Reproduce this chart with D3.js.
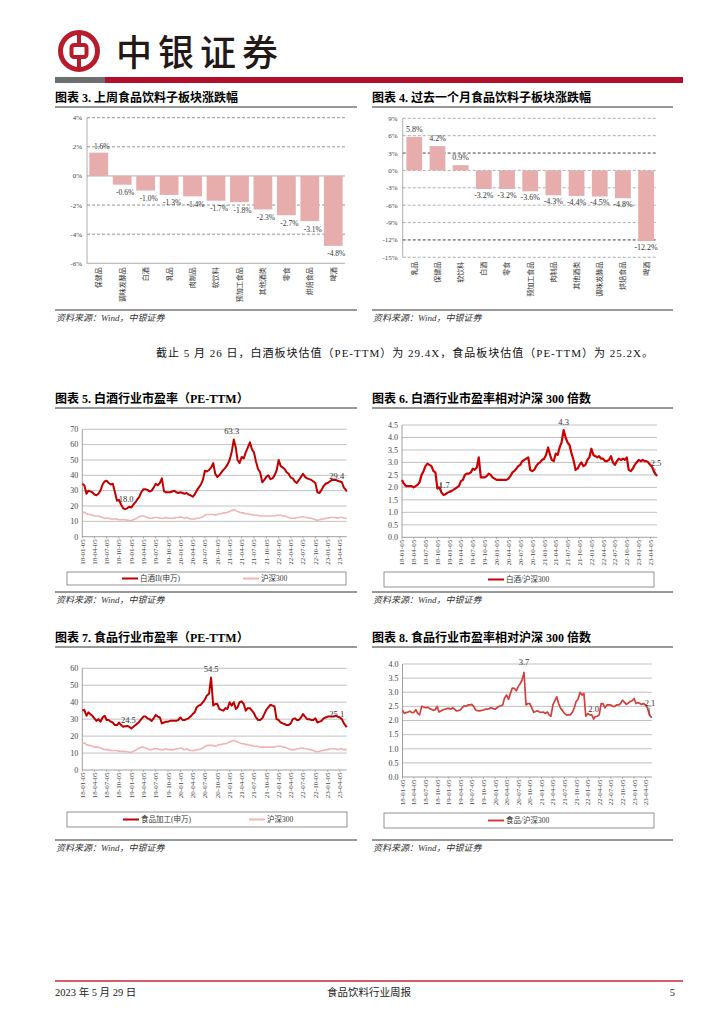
<!DOCTYPE html>
<html lang="zh-CN">
<head>
<meta charset="UTF-8">
<title>食品饮料行业周报</title>
<script src="https://d3js.org/d3.v7.min.js"></script>
<style>
  body { margin: 0; background: #fff; }
  svg text { font-family: "Liberation Serif", "Noto Sans CJK SC", serif; fill: #222; }
</style>
</head>
<body>
<div id="page"></div>
<script>
// ---------------- data ----------------
// 图表3: 上周子板块涨跌幅 (%)
const cats3 = ["保健品", "调味发酵品", "白酒", "乳品", "肉制品", "软饮料", "预加工食品", "其他酒类", "零食", "烘焙食品", "啤酒"];
const vals3 = [1.6, -0.6, -1.0, -1.3, -1.4, -1.7, -1.8, -2.3, -2.7, -3.1, -4.8];
const ticks3 = [-6, -4, -2, 0, 2, 4];

// 图表4: 过去一个月子板块涨跌幅 (%)
const cats4 = ["乳品", "保健品", "软饮料", "白酒", "零食", "预加工食品", "肉制品", "其他酒类", "调味发酵品", "烘焙食品", "啤酒"];
const vals4 = [5.8, 4.2, 0.9, -3.2, -3.2, -3.6, -4.3, -4.4, -4.5, -4.8, -12.2];
const ticks4 = [-15, -12, -9, -6, -3, 0, 3, 6, 9];

// x-axis tick labels of the valuation charts (quarterly)
const tickDates = ["2018-01-05", "2018-04-05", "2018-07-05", "2018-10-05", "2019-01-05", "2019-04-05",
  "2019-07-05", "2019-10-05", "2020-01-05", "2020-04-05", "2020-07-05", "2020-10-05", "2021-01-05",
  "2021-04-05", "2021-07-05", "2021-10-05", "2022-01-05", "2022-04-05", "2022-07-05", "2022-10-05",
  "2023-01-05", "2023-04-05"];

// series sampled on the 5th and 20th of each month, 2018-01 .. 2023-05, last point 2023-05-26
const baijiuPE = [
  34.5, 33.5, 28, 30, 29.5, 29, 27.5, 27, 28, 30, 34, 36, 36.5, 35, 34, 34.5, 29, 23.5, 24, 21, 18.5, 18.0, 18.5, 19.5,
  19, 21, 22.5, 24.5, 26, 29, 31, 31, 30.5, 29.5, 30, 32, 34.5, 33.5, 35, 38, 29.5, 29, 29, 29, 29.5, 30, 29, 28.5,
  29, 28.5, 28, 28.5, 27.5, 27, 26, 27.5, 30, 32, 34, 37, 43, 42.5, 43.5, 45, 48, 41, 39, 40, 42, 43.5, 45, 47,
  50, 55, 63.3, 58, 50, 48, 52, 51, 55, 58, 61.5, 57, 55, 49, 44, 42, 35.5, 37, 39, 40, 37.5, 38, 40, 43,
  50, 46, 45, 44, 42, 41, 38.5, 38, 36, 35, 37, 39, 41, 39, 38, 37.5, 37, 36, 35, 29, 28.5, 30.5, 33, 34.5,
  35, 36, 37, 37, 37, 36.5, 36, 35.5, 32, 30.5, 29.4];
const hs300PE = [
  15.5, 16, 15, 14.5, 14.5, 14, 13.5, 13.5, 13.5, 13, 12.5, 12, 12, 12, 11.5, 11.5, 11.5, 11.5, 11, 11, 11, 11, 10.8, 10.5,
  10.5, 11, 11.5, 12.5, 13, 13.5, 13.5, 13, 12.5, 12, 12, 12.5, 12.5, 12.5, 12, 12, 12, 12.5, 12, 12, 12, 12, 12.5, 12.5,
  13, 12.5, 12, 12.5, 12, 11.5, 11.5, 11.5, 12, 12, 12.5, 13, 14, 14.5, 14.5, 14.5, 14.5, 14, 14.5, 15, 15, 15.5, 15.5, 16,
  16.5, 17, 17.5, 17, 16.5, 16, 15.5, 15.5, 15, 15, 14.5, 14.5, 14, 14, 14, 13.5, 13.5, 13.5, 13.5, 13.5, 13.5, 13.5, 13.5, 14,
  14, 14, 13.5, 13.5, 13, 12.5, 12, 12, 12, 12.5, 12.5, 13, 13, 12.5, 12.5, 12, 12, 11.5, 11, 10.8, 11, 11.5, 11.5, 12,
  12, 12.5, 12.5, 12.5, 12.5, 12, 12.5, 12.5, 12, 12, 11.8];
const baijiuRel = [
  2.3, 2.15, 2.05, 2.05, 2.05, 2.05, 2.0, 2.05, 2.1, 2.2, 2.5, 2.65, 2.85, 2.95, 2.9, 2.85, 2.65, 2.6, 1.95, 2.0, 1.8, 1.7, 1.72, 1.78,
  1.82, 1.85, 1.9, 1.95, 2.0, 2.05, 2.25, 2.3, 2.5, 2.55, 2.55, 2.6, 2.75, 2.7, 2.8, 3.2, 2.4, 2.4, 2.4, 2.45, 2.55, 2.5, 2.4, 2.35,
  2.3, 2.3, 2.3, 2.3, 2.3, 2.3, 2.35, 2.45, 2.6, 2.65, 2.75, 2.85, 2.9, 3.05, 3.1, 3.15, 3.2, 2.7, 2.65, 2.7, 2.85, 2.95, 3.0, 3.1,
  3.15, 3.3, 3.6, 3.3, 3.1, 3.05, 3.35, 3.3, 3.6, 3.8, 4.3, 4.0, 3.8, 3.7, 3.35, 3.1, 2.7, 2.75, 2.9, 3.0, 2.85, 2.9, 3.1, 3.2,
  3.55, 3.3, 3.25, 3.2, 3.25, 3.15, 3.15, 3.05, 3.05, 3.1, 3.25, 3.0, 2.9, 3.05, 3.15, 3.1, 3.15, 3.1, 3.2, 2.7, 2.65, 2.75, 2.9, 3.0,
  3.1, 3.05, 3.1, 3.05, 3.05, 3.0, 2.9, 2.8, 2.6, 2.5, 2.45];
const foodPE = [
  35, 35.5, 32, 34, 33, 32, 30.5, 29, 30, 28.5, 31, 32, 29.5, 29.5, 28.5, 28, 26.5, 26.5, 28, 26.5, 25.5, 25.8, 26, 25.5,
  24.5, 25.5, 26.5, 27.5, 28.5, 30, 31.5, 31.5, 30.5, 30, 29, 30.5, 32.5, 31.5, 31, 27.5, 28, 28.5, 28.5, 29, 29, 29, 29, 29.5,
  31, 29.5, 29.5, 30, 30.5, 31.5, 33, 34, 37, 38, 38.5, 40, 41.5, 44, 45, 54.5, 38, 39, 39, 36, 35.5, 35, 36.5, 36,
  40, 38, 40, 36, 37, 40, 40.5, 39, 35, 36.5, 36.5, 35, 33.5, 31, 29.5, 29.5, 30.5, 33, 35.5, 37, 38.5, 38, 37.5, 30,
  29.5, 28, 27.5, 27, 26.5, 26.5, 27.5, 30, 30.5, 29.5, 29.5, 31, 33, 31.5, 30, 30, 29.5, 29.5, 30.5, 28, 28.5, 29, 30.5, 31,
  31.5, 31.5, 31.5, 31.5, 32, 31.5, 31, 30, 27.5, 26, 25.2];
const foodRel = [
  2.37, 2.25, 2.29, 2.3, 2.33, 2.28, 2.29, 2.38, 2.25, 2.2, 2.5, 2.48, 2.45, 2.47, 2.43, 2.4, 2.36, 2.38, 2.5, 2.3, 2.34, 2.38, 2.4, 2.42,
  2.43, 2.4, 2.45, 2.4, 2.34, 2.35, 2.37, 2.45, 2.52, 2.5, 2.55, 2.55, 2.57, 2.5, 2.37, 2.35, 2.34, 2.36, 2.37, 2.4, 2.4, 2.42, 2.45, 2.42,
  2.4, 2.45, 2.5, 2.52, 2.55, 2.8, 2.9, 2.75, 2.96, 3.15, 3.14, 3.05, 3.2, 3.3, 3.43, 3.7, 2.55, 2.6, 2.6, 2.45, 2.29, 2.32, 2.34, 2.3,
  2.29, 2.3, 2.25, 2.3, 2.2, 2.15, 2.55, 2.7, 2.84, 2.6, 2.43, 2.35, 2.25, 2.2, 2.2, 2.2, 2.29, 2.45, 2.67, 2.75, 3.0, 2.9, 2.96, 2.15,
  2.25, 2.2, 2.2, 2.05, 2.14, 2.15, 2.2, 2.6, 2.6, 2.45, 2.55, 2.55, 2.55, 2.5, 2.5, 2.55, 2.55, 2.6, 2.72, 2.65, 2.57, 2.62, 2.67, 2.7,
  2.78, 2.6, 2.64, 2.6, 2.57, 2.6, 2.55, 2.45, 2.2, 2.12, 2.1];

// sample dates matching the series above
const sampleDates = [];
for (let yr = 2018; yr <= 2023; yr++) {
  for (let mo = 0; mo < 12; mo++) {
    [5, 20].forEach(day => {
      const d = new Date(yr, mo, day);
      if (d <= new Date(2023, 4, 20)) sampleDates.push(d);
    });
  }
}
sampleDates.push(new Date(2023, 4, 26));

const parseDate = d3.timeParse("%Y-%m-%d");
const fmtTick = d3.timeFormat("%y-%m-%d");
const fmtPct = v => v.toFixed(1) + "%";   // plain hyphen minus, as in the report

const RED = "#c00000", PINK = "#f0b4b4", BAR = "#e7acac";

// ---------------- page ----------------
const svg = d3.select("#page").append("svg")
  .attr("width", 724)
  .attr("height", 1024);

// header logo
const logo = svg.append("g").attr("transform", "translate(79,51)");
logo.append("circle").attr("r", 18.5).attr("fill", "none").attr("stroke", "#b81c2b").attr("stroke-width", 5);
logo.append("rect").attr("x", -7.5).attr("y", -6).attr("width", 15).attr("height", 12).attr("rx", 2.5)
  .attr("fill", "none").attr("stroke", "#b81c2b").attr("stroke-width", 4);
logo.append("line").attr("x1", 0).attr("x2", 0).attr("y1", -19).attr("y2", -8).attr("stroke", "#b81c2b").attr("stroke-width", 4);
logo.append("line").attr("x1", 0).attr("x2", 0).attr("y1", 8).attr("y2", 19).attr("stroke", "#b81c2b").attr("stroke-width", 4);

svg.append("text").attr("x", 116).attr("y", 66)
  .text("中银证券")
  .style("font-family", "'Noto Sans CJK SC'")
  .style("font-size", "36px")
  .style("font-weight", 500)
  .style("letter-spacing", "6px")
  .style("fill", "#231815");

svg.append("rect").attr("x", 55).attr("y", 77).attr("width", 50).attr("height", 6).attr("fill", "#6d6e70");
svg.append("rect").attr("x", 105).attr("y", 77).attr("width", 578).attr("height", 6).attr("fill", "#b0102c");

// chart title + underline
function chartTitle(x, y, w, label) {
  svg.append("text").attr("x", x).attr("y", y)
    .text(label)
    .style("font-size", "12px")
    .style("font-weight", 700)
    .style("fill", "#000");
  svg.append("line").attr("x1", x).attr("x2", x + w).attr("y1", y + 5).attr("y2", y + 5)
    .attr("stroke", "#333").attr("stroke-width", 1);
}

// source note with line above
function sourceNote(x, y, w) {
  svg.append("line").attr("x1", x).attr("x2", x + w).attr("y1", y).attr("y2", y)
    .attr("stroke", "#333").attr("stroke-width", 1);
  svg.append("text").attr("x", x + 1).attr("y", y + 11)
    .text("资料来源：Wind，中银证券")
    .style("font-size", "9px")
    .style("font-style", "italic")
    .style("fill", "#333");
}

// bar chart of sub-sector returns
function barChart(cfg) {
  const g = svg.append("g");
  const x = d3.scaleBand().domain(cfg.cats).range([cfg.left, cfg.right])
    .paddingInner(cfg.pad).paddingOuter(cfg.pad / 2);
  const y = d3.scaleLinear().domain([cfg.ticks[0], cfg.ticks[cfg.ticks.length - 1]]).range([cfg.bottom, cfg.top]);

  // gridlines
  g.selectAll(".grid").data(cfg.ticks).join("line")
    .attr("x1", cfg.left).attr("x2", cfg.gridEnd)
    .attr("y1", d => y(d)).attr("y2", d => y(d))
    .attr("stroke", d => cfg.gridColor(d))
    .attr("stroke-width", 0.8)
    .attr("stroke-dasharray", d => cfg.dashed(d) ? "3,2" : null);
  g.append("line").attr("x1", cfg.left).attr("x2", cfg.left).attr("y1", cfg.top).attr("y2", cfg.bottom)
    .attr("stroke", "#999").attr("stroke-width", 0.8);

  g.selectAll(".ylab").data(cfg.ticks).join("text")
    .attr("x", cfg.left - 5).attr("y", d => y(d)).attr("dy", "0.35em")
    .attr("text-anchor", "end")
    .style("font-size", "7px")
    .style("fill", "#444")
    .text(d => d + "%");

  // bars
  g.selectAll(".bar").data(cfg.vals).join("rect")
    .attr("x", (d, i) => x(cfg.cats[i]))
    .attr("width", x.bandwidth())
    .attr("y", d => y(Math.max(0, d)))
    .attr("height", d => Math.abs(y(d) - y(0)))
    .attr("fill", BAR);

  g.selectAll(".vlab").data(cfg.vals).join("text")
    .attr("x", (d, i) => x(cfg.cats[i]) + x.bandwidth() / 2 + cfg.labDx)
    .attr("y", d => d >= 0 ? y(d) - cfg.labUp : y(d) + cfg.labDown)
    .attr("text-anchor", "middle")
    .style("font-size", cfg.labSize)
    .style("fill", "#333")
    .text(d => fmtPct(d));

  // category labels, rotated, reading upward from below the axis
  g.selectAll(".clab").data(cfg.cats).join("text")
    .attr("transform", d => `translate(${x(d) + x.bandwidth() / 2},${cfg.bottom + cfg.catGap}) rotate(-90)`)
    .attr("dy", "0.35em")
    .attr("text-anchor", "end")
    .style("font-family", "'Noto Sans CJK SC'")
    .style("font-size", "7px")
    .style("fill", "#333")
    .text(d => d);
}

// valuation line chart
function lineChart(cfg) {
  const g = svg.append("g");
  const x = d3.scaleTime().domain([sampleDates[0], sampleDates[sampleDates.length - 1]]).range([cfg.left, cfg.right]);
  const y = d3.scaleLinear().domain([0, cfg.yMax]).range([cfg.bottom, cfg.top]);
  const yTicks = d3.range(0, cfg.yMax + cfg.yStep / 2, cfg.yStep);

  g.selectAll(".grid").data(yTicks.slice(1)).join("line")
    .attr("x1", cfg.left).attr("x2", cfg.right)
    .attr("y1", d => y(d)).attr("y2", d => y(d))
    .attr("stroke", "#a6a6a6").attr("stroke-width", 0.7);
  g.append("line").attr("x1", cfg.left).attr("x2", cfg.right).attr("y1", cfg.bottom).attr("y2", cfg.bottom)
    .attr("stroke", "#888").attr("stroke-width", 0.8);
  g.append("line").attr("x1", cfg.left).attr("x2", cfg.left).attr("y1", cfg.top).attr("y2", cfg.bottom)
    .attr("stroke", "#888").attr("stroke-width", 0.8);

  g.selectAll(".ylab").data(yTicks).join("text")
    .attr("x", cfg.left - 4).attr("y", d => y(d)).attr("dy", "0.35em")
    .attr("text-anchor", "end")
    .style("font-size", "8px")
    .style("fill", "#444")
    .text(cfg.yFmt);

  const td = tickDates.map(parseDate);
  g.selectAll(".tick").data(td).join("line")
    .attr("x1", d => x(d)).attr("x2", d => x(d))
    .attr("y1", cfg.bottom).attr("y2", cfg.bottom + 2)
    .attr("stroke", "#888").attr("stroke-width", 0.6);
  g.selectAll(".xlab").data(td).join("text")
    .attr("transform", d => `translate(${x(d)},${cfg.bottom + 2.5}) rotate(-90)`)
    .attr("dy", "0.35em")
    .attr("text-anchor", "end")
    .style("font-size", "7px")
    .style("fill", "#444")
    .text(d => fmtTick(d));

  const line = d3.line().x((d, i) => x(sampleDates[i])).y(d => y(d));
  cfg.series.forEach(s => {
    g.append("path").datum(s.values)
      .attr("d", line)
      .attr("fill", "none")
      .attr("stroke", s.color)
      .attr("stroke-width", s.width)
      .attr("stroke-linejoin", "round");
  });

  cfg.notes.forEach(n => {
    const px = x(parseDate(n.date)), py = y(n.value);
    g.append("text")
      .attr("x", px + n.dx).attr("y", py + n.dy)
      .attr("text-anchor", "middle")
      .style("font-size", "8.5px")
      .style("fill", "#333")
      .text(n.text);
    if (n.leader) {
      g.append("line")
        .attr("x1", px + n.leader[0]).attr("y1", py + n.leader[1])
        .attr("x2", px + n.leader[2]).attr("y2", py + n.leader[3])
        .attr("stroke", "#333").attr("stroke-width", 0.6);
    }
  });

  // legend
  const lg = cfg.legend;
  g.append("rect").attr("x", lg.x).attr("y", lg.y).attr("width", lg.w).attr("height", lg.h)
    .attr("fill", "none").attr("stroke", "#666").attr("stroke-width", 0.7);
  lg.items.forEach(it => {
    const cy = lg.y + lg.h / 2;
    g.append("line").attr("x1", it.x).attr("x2", it.x + 16).attr("y1", cy).attr("y2", cy)
      .attr("stroke", it.color).attr("stroke-width", 2);
    g.append("text").attr("x", it.x + 18).attr("y", cy).attr("dy", "0.35em")
      .style("font-size", "7.5px")
      .style("fill", "#333")
      .text(it.label);
  });
}

// ---------------- charts ----------------
chartTitle(55, 102, 302, "图表 3. 上周食品饮料子板块涨跌幅");
chartTitle(372, 102, 301, "图表 4. 过去一个月食品饮料子板块涨跌幅");

barChart({
  cats: cats3, vals: vals3, ticks: ticks3,
  left: 87, right: 345, gridEnd: 345, top: 117.7, bottom: 263.3, pad: 0.2,
  gridColor: d => (d === 0 || d === -6) ? "#999" : "#777",
  dashed: d => d !== 0 && d !== -6,
  labUp: 4, labDown: 10.5, labDx: 3, labSize: "7.5px", catGap: 4
});

barChart({
  cats: cats4, vals: vals4, ticks: ticks4,
  left: 402.7, right: 657.7, gridEnd: 657.7, top: 118.3, bottom: 257.3, pad: 0.32,
  gridColor: d => (d === 3 || d === -12) ? "#111" : "#999",
  dashed: d => true,
  labUp: 5, labDown: 9, labDx: 0, labSize: "8px", catGap: 4.5
});

sourceNote(55, 310, 302);
sourceNote(372, 310, 301);

svg.append("text").attr("x", 156).attr("y", 357)
  .attr("textLength", 497)
  .attr("lengthAdjust", "spacing")
  .text("截止 5 月 26 日，白酒板块估值（PE-TTM）为 29.4X，食品板块估值（PE-TTM）为 25.2X。")
  .style("font-size", "11px")
  .style("fill", "#111");

chartTitle(55, 403, 302, "图表 5. 白酒行业市盈率（PE-TTM）");
chartTitle(372, 403, 301, "图表 6. 白酒行业市盈率相对沪深 300 倍数");

lineChart({
  left: 82.3, right: 346.7, top: 429.3, bottom: 536.7, yMax: 70, yStep: 10, yFmt: d => d,
  series: [{ values: hs300PE, color: PINK, width: 1.6 }, { values: baijiuPE, color: RED, width: 2 }],
  notes: [
    { date: "2021-02-05", value: 63.3, text: "63.3", dx: -2, dy: -6 },
    { date: "2018-11-20", value: 18.0, text: "18.0", dx: 1, dy: -7 },
    { date: "2023-05-26", value: 29.4, text: "29.4", dx: -10, dy: -13 }
  ],
  legend: { x: 67, y: 572, w: 279, h: 13, items: [
    { x: 122, color: RED, label: "白酒II(申万)" },
    { x: 243, color: PINK, label: "沪深300" }] }
});

lineChart({
  left: 402, right: 657, top: 425, bottom: 537.3, yMax: 4.5, yStep: 0.5, yFmt: d3.format(".1f"),
  series: [{ values: baijiuRel, color: "#cc0000", width: 2.2 }],
  notes: [
    { date: "2021-06-05", value: 4.3, text: "4.3", dx: 0, dy: -5 },
    { date: "2018-11-20", value: 1.7, text: "1.7", dx: 1, dy: -7, leader: [-3, -12, -2, -3] },
    { date: "2023-05-26", value: 2.45, text: "2.5", dx: -1, dy: -10, leader: [-2, -8, -2, -1] }
  ],
  legend: { x: 384, y: 572, w: 270, h: 15, items: [
    { x: 488, color: "#cc0000", label: "白酒/沪深300" }] }
});

sourceNote(55, 592, 302);
sourceNote(372, 592, 301);

chartTitle(55, 642, 302, "图表 7. 食品行业市盈率（PE-TTM）");
chartTitle(372, 642, 301, "图表 8. 食品行业市盈率相对沪深 300 倍数");

lineChart({
  left: 82.3, right: 346.7, top: 668.3, bottom: 770, yMax: 60, yStep: 10, yFmt: d => d,
  series: [{ values: hs300PE, color: PINK, width: 1.6 }, { values: foodPE, color: RED, width: 2 }],
  notes: [
    { date: "2020-08-20", value: 54.5, text: "54.5", dx: 0, dy: -6 },
    { date: "2019-01-05", value: 24.5, text: "24.5", dx: -3, dy: -5.5 },
    { date: "2023-05-26", value: 25.2, text: "25.1", dx: -10, dy: -10 }
  ],
  legend: { x: 67, y: 812, w: 280, h: 15, items: [
    { x: 123, color: RED, label: "食品加工(申万)" },
    { x: 249, color: PINK, label: "沪深300" }] }
});

lineChart({
  left: 402.5, right: 652, top: 664, bottom: 777, yMax: 4, yStep: 0.5, yFmt: d3.format(".1f"),
  series: [{ values: foodRel, color: "#d2403c", width: 1.7 }],
  notes: [
    { date: "2020-08-20", value: 3.7, text: "3.7", dx: 0, dy: -7 },
    { date: "2022-02-20", value: 2.05, text: "2.0", dx: 0, dy: -7 },
    { date: "2023-05-26", value: 2.1, text: "2.1", dx: -2, dy: -12, leader: [-3, -10, -2, -2] }
  ],
  legend: { x: 384, y: 813, w: 270, h: 15, items: [
    { x: 488, color: "#d2403c", label: "食品/沪深300" }] }
});

sourceNote(55, 840, 302);
sourceNote(372, 840, 301);

// footer
svg.append("line").attr("x1", 55).attr("x2", 683).attr("y1", 981).attr("y2", 981)
  .attr("stroke", "#c0283c").attr("stroke-width", 1.5);
svg.append("text").attr("x", 55).attr("y", 996).text("2023 年 5 月 29 日").style("font-size", "10.5px");
svg.append("text").attr("x", 369).attr("y", 996).attr("text-anchor", "middle").text("食品饮料行业周报").style("font-size", "10.5px");
svg.append("text").attr("x", 675).attr("y", 996).attr("text-anchor", "end").text("5").style("font-size", "10.5px");
</script>
</body>
</html>
